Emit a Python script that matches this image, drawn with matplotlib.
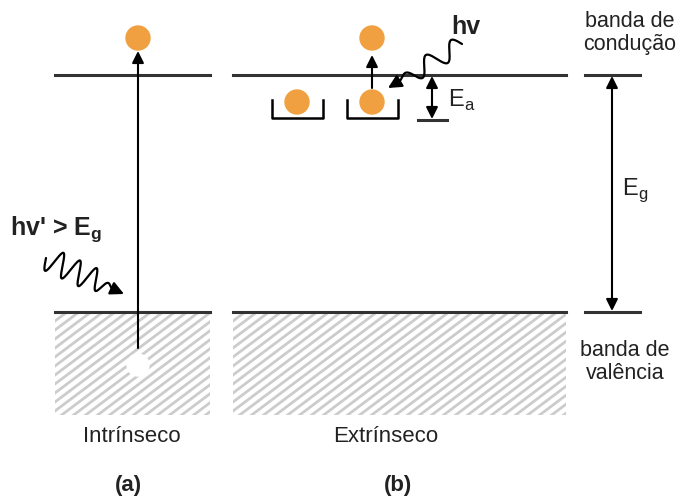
import numpy as np
import matplotlib.pyplot as plt
from matplotlib.patches import Rectangle, Circle

plt.rcParams["font.family"] = ["Liberation Sans", "DejaVu Sans"]

# band positions (pixel coords, y down)
conduction_y = 75
valence_y = 312
panel_a = (55, 210)
panel_b = (233, 566)
gap_bar = (585, 640)
band_bottom = 415

orange = "#F0A040"
line_col = "#333333"
text_col = "#222222"

labels = ["Intrínseco", "Extrínseco"]
panel_tags = ["(a)", "(b)"]


def wavy_arrow(ax, start, end, n_waves, amp):
    x0, y0 = start
    x1, y1 = end
    d = np.hypot(x1 - x0, y1 - y0)
    ux, uy = (x1 - x0) / d, (y1 - y0) / d
    px, py = -uy, ux
    t = np.linspace(0, 1, 300)
    taper = np.clip((1 - t) * 4, 0, 1)
    w = amp * np.sin(2 * np.pi * n_waves * t) * taper
    xs = x0 + t * (x1 - x0) * 0.85 + w * px
    ys = y0 + t * (y1 - y0) * 0.85 + w * py
    ax.plot(xs, ys, color="black", lw=1.6, solid_capstyle="round")
    ax.annotate("", xy=(x1, y1), xytext=(xs[-1], ys[-1]),
                arrowprops=dict(arrowstyle="-|>,head_length=0.8,head_width=0.4",
                                color="black", lw=1.6, shrinkA=0, shrinkB=0))


def hatch_box(ax, x0, x1, y0, y1, step=9, slope=0.75):
    box = Rectangle((x0, y0), x1 - x0, y1 - y0, facecolor="white", edgecolor="none")
    ax.add_patch(box)
    span = (x1 - x0) * slope
    for c in np.arange(y0, y1 + span + step, step):
        ln, = ax.plot([x0, x1], [c, c - span], color="#cccccc", lw=2.0)
        ln.set_clip_path(box)


fig = plt.figure(figsize=(6.8, 5.01), dpi=100)
ax = fig.add_axes([0, 0, 1, 1])
ax.set_xlim(0, 680)
ax.set_ylim(501, 0)
ax.axis("off")

for x0, x1 in (panel_a, panel_b):
    hatch_box(ax, x0, x1, valence_y, band_bottom)
    ax.plot([x0, x1], [conduction_y, conduction_y], color=line_col, lw=2.2)
    ax.plot([x0, x1], [valence_y, valence_y], color=line_col, lw=2.2)

ax.plot(gap_bar, [conduction_y, conduction_y], color=line_col, lw=2.2)
ax.plot(gap_bar, [valence_y, valence_y], color=line_col, lw=2.2)

arrow_kw = dict(arrowstyle="-|>,head_length=0.7,head_width=0.35", color="black",
                lw=1.5, shrinkA=0, shrinkB=0)

# (a) intrinsic excitation
ax.annotate("", xy=(138, 51), xytext=(138, 348), arrowprops=arrow_kw)
ax.add_patch(Circle((138, 38), 12, color=orange, zorder=3))
ax.add_patch(Circle((138, 365), 11, color="white", zorder=3))
ax.text(10, 229, "hv' > E$_\\mathregular{g}$", fontsize=18, fontweight="bold",
        va="center", ha="left", color=text_col)
wavy_arrow(ax, (46, 258), (124, 294), 4, 12)

# (b) extrinsic
for cx in (297, 372):
    ax.add_patch(Circle((cx, 102), 12, color=orange, zorder=3))
    ax.plot([cx - 25, cx - 25, cx + 26, cx + 26], [100, 118, 118, 100],
            color="black", lw=1.8)
ax.add_patch(Circle((372, 38), 12, color=orange, zorder=3))
ax.annotate("", xy=(372, 55), xytext=(372, 88), arrowprops=arrow_kw)
ax.text(451, 27, "hv", fontsize=18, fontweight="bold", va="center", ha="left",
        color=text_col)
wavy_arrow(ax, (462, 44), (388, 88), 2.5, 9)

# E_a
ax.annotate("", xy=(432, 76), xytext=(432, 98), arrowprops=arrow_kw)
ax.annotate("", xy=(432, 119), xytext=(432, 98), arrowprops=arrow_kw)
ax.plot([418, 447], [120, 120], color=line_col, lw=2.2)
ax.text(448, 100, "E$_\\mathregular{a}$", fontsize=17, va="center", ha="left",
        color=text_col)

# E_g
ax.annotate("", xy=(612, 76), xytext=(612, 190), arrowprops=arrow_kw)
ax.annotate("", xy=(612, 311), xytext=(612, 190), arrowprops=arrow_kw)
ax.text(622, 190, "E$_\\mathregular{g}$", fontsize=17, va="center", ha="left",
        color=text_col)

ax.text(630, 33, "banda de\ncondução", fontsize=15.5, ha="center", va="center",
        linespacing=1.15, color=text_col)
ax.text(625, 362, "banda de\nvalência", fontsize=15.5, ha="center", va="center",
        linespacing=1.15, color=text_col)

ax.text(132, 437, labels[0], fontsize=16, ha="center", va="center", color=text_col)
ax.text(386, 437, labels[1], fontsize=16, ha="center", va="center", color=text_col)
ax.text(128, 486, panel_tags[0], fontsize=16, fontweight="bold", ha="center",
        va="center", color=text_col)
ax.text(398, 486, panel_tags[1], fontsize=16, fontweight="bold", ha="center",
        va="center", color=text_col)

fig.savefig("out.png", dpi=100)
